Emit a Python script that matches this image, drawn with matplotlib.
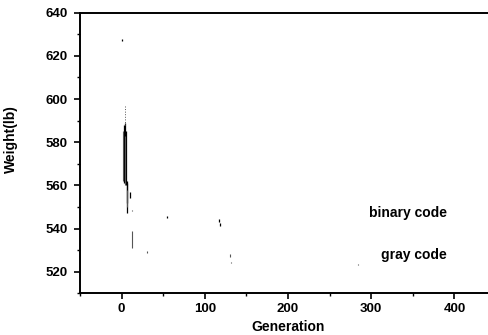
import matplotlib.pyplot as plt
from matplotlib.ticker import MultipleLocator

plt.rcParams["font.family"] = ["Liberation Sans", "DejaVu Sans"]

# visible drop segments of each run: generation, upper and lower weight (lb)
binary_gen = [1, 3, 4, 5, 6, 7, 10, 55, 117, 118]
binary_hi = [627.8, 588, 589, 585, 562, 561, 557, 545.6, 544.5, 542.6]
binary_lo = [627.0, 561, 566, 560, 547, 552, 554, 545.0, 543.2, 541.0]

gray_gen = [2, 4, 6, 12, 12, 31, 130, 131, 284]
gray_hi = [585, 583, 558, 539, 548.6, 529.6, 528.2, 524.6, 523.6]
gray_lo = [562, 560, 550, 531, 548.2, 528.6, 526.6, 524.0, 523.0]

# faint dotted top of the early spike
spike_gen = [4]
spike_hi = [597]
spike_lo = [588]

fig = plt.figure(figsize=(4.89, 3.35), dpi=100)
ax = fig.add_axes([0.1636, 0.1245, 0.8507, 0.8376])

ax.vlines(binary_gen, binary_lo, binary_hi, color="black", lw=0.9)
ax.vlines(gray_gen, gray_lo, gray_hi, color="#555555", lw=0.8)
ax.vlines(spike_gen, spike_lo, spike_hi, color="#555555", lw=0.7, linestyles=":")

ax.text(391, 547.4, "binary code", ha="right", va="center", fontsize=10, fontweight="bold")
ax.text(391, 527.7, "gray code", ha="right", va="center", fontsize=10, fontweight="bold")

ax.set_xlim(-50, 450)
ax.set_ylim(510, 640)
ax.xaxis.set_major_locator(MultipleLocator(100))
ax.xaxis.set_minor_locator(MultipleLocator(50))
ax.yaxis.set_major_locator(MultipleLocator(20))
ax.yaxis.set_minor_locator(MultipleLocator(10))
ax.tick_params(which="major", direction="out", length=4, width=1.2, labelsize=9.5, pad=5)
ax.tick_params(axis="x", which="major", pad=3)
ax.tick_params(which="minor", direction="out", length=2, width=1)
for lab in ax.get_xticklabels() + ax.get_yticklabels():
    lab.set_fontweight("bold")

for side in ["left", "bottom", "top"]:
    ax.spines[side].set_linewidth(1.4)
ax.spines["right"].set_visible(False)

ax.set_xlabel("Generation", fontsize=10, fontweight="bold")
ax.set_ylabel("Weight(lb)", fontsize=10, fontweight="bold")
ax.xaxis.set_label_coords(0.5, -0.094)
ax.yaxis.set_label_coords(-0.15, 0.55)

fig.savefig("out.png", dpi=100)
